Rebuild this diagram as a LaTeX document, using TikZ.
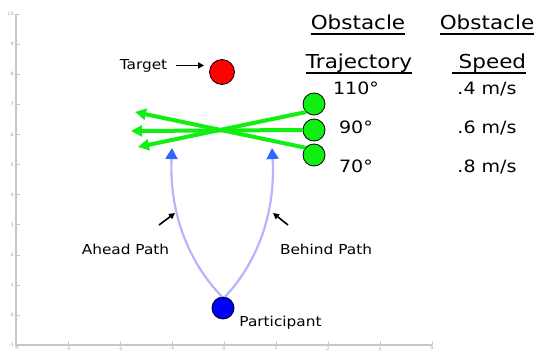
\documentclass[tikz,border=0pt]{standalone}
\usepackage{fontspec}
\setmainfont{DejaVu Sans}[FakeStretch=1.12]
\usetikzlibrary{arrows.meta,calc}
\definecolor{axgray}{HTML}{C8C8C8}
\definecolor{obgreen}{HTML}{11EE11}
\definecolor{pathblue}{HTML}{B4B4FF}
\definecolor{tipblue}{HTML}{3366FF}
\definecolor{ballred}{HTML}{FF0000}
\definecolor{ballblue}{HTML}{0000FF}

\begin{document}
\begin{tikzpicture}[x=1pt,y=-1pt,
  hdr/.style={font=\fontsize{19.2}{22}\selectfont,inner sep=0pt,anchor=base},
  val/.style={font=\fontsize{17}{20}\selectfont,inner sep=0pt,anchor=base},
  lab/.style={font=\fontsize{13.7}{16}\selectfont,inner sep=0pt,anchor=base},
  ticklab/.style={font=\fontsize{4.5}{5}\selectfont,text=axgray!80!black,inner sep=0pt},
  ball/.style={circle,draw=black,line width=.8pt,minimum size=22pt,inner sep=0pt},
  uline/.style={draw=black,line width=1.2pt},
  obst/.style={-{Triangle[length=11pt,width=11pt]},obgreen,line width=4pt},
  route/.style={-{Triangle[length=11pt,width=12pt,color=tipblue]},pathblue,line width=2.2pt},
  ptr/.style={-{Triangle[length=6pt,width=6pt]},line width=1.6pt}]
\useasboundingbox (0,0) rectangle (537,351);
\draw[axgray,line width=1.5pt] (16,14)--(16,345)--(432,345);
\foreach \v in {10,9,...,-1}{
\draw[axgray,line width=.6pt] (16,{14+(10-\v)*30.1})--(20,{14+(10-\v)*30.1});
\node[ticklab,anchor=east] at (14,{14+(10-\v)*30.1}) {\v};}
\foreach \v in {-4,...,4}{
\draw[axgray,line width=.6pt] ({16+(\v+4)*52},345)--({16+(\v+4)*52},341);
\node[ticklab,anchor=north] at ({16+(\v+4)*52},346.5) {\v};}
\node[hdr] (h1) at (358,29) {Obstacle};
\node[hdr] (h2) at (359,68) {Trajectory};
\node[hdr] (h3) at (487,29) {Obstacle};
\node[hdr] (h4) at (489,68) {\ Speed};
\path[uline] ($(h1.base west)+(0,5)$)--($(h1.base east)+(0,5)$);
\path[uline] ($(h2.base west)+(0,5)$)--($(h2.base east)+(0,5)$);
\path[uline] ($(h3.base west)+(0,5)$)--($(h3.base east)+(0,5)$);
\path[uline] ($(h4.base west)+(0,5)$)--($(h4.base east)+(0,5)$);
\node[val] (a1) at (356,94) {110°};
\node[val] (a2) at (356,133) {90°};
\node[val] (a3) at (356,172) {70°};
\node[val] (s1) at (487,94) {.4 m/s};
\node[val] (s2) at (487,133) {.6 m/s};
\node[val] (s3) at (487,172) {.8 m/s};
\node[ball,fill=ballred,minimum size=25pt] (tgt) at (222,72) {};
\node[ball,fill=obgreen] (o1) at (314,104) {};
\node[ball,fill=obgreen] (o2) at (314,130) {};
\node[ball,fill=obgreen] (o3) at (314,155) {};
\node[ball,fill=ballblue] (me) at (223,308) {};
\node[lab] (tgtlab) at (143.5,69) {Target};
\node[lab] (ahead) at (125.5,254) {Ahead Path};
\node[lab] (behind) at (326,254) {Behind Path};
\node[lab] (part) at (280.5,326) {Participant};
\draw[ptr,shorten <=9pt,shorten >=5pt] (tgtlab.east)--(tgtlab.east -| tgt.west);
\coordinate (e1) at (138,147);
\coordinate (e2) at (131,131);
\coordinate (e3) at (135,112);
\draw[obst] (o1.225)--(e1);
\draw[obst] (o2.west)--(e2);
\draw[obst] (o3.140)--(e3);
\coordinate (t1) at (172,148);
\coordinate (t2) at (272,148);
\draw[route] (me.95) .. controls (192,266) and (169,218) .. (t1);
\draw[route] (me.80) .. controls (254,266) and (276,218) .. (t2);
\coordinate (pa1) at (159,225);
\coordinate (pa2) at (175,213);
\coordinate (pb1) at (288,225);
\coordinate (pb2) at (273,213);
\draw[ptr] (pa1)--(pa2);
\draw[ptr] (pb1)--(pb2);
\end{tikzpicture}
\end{document}
